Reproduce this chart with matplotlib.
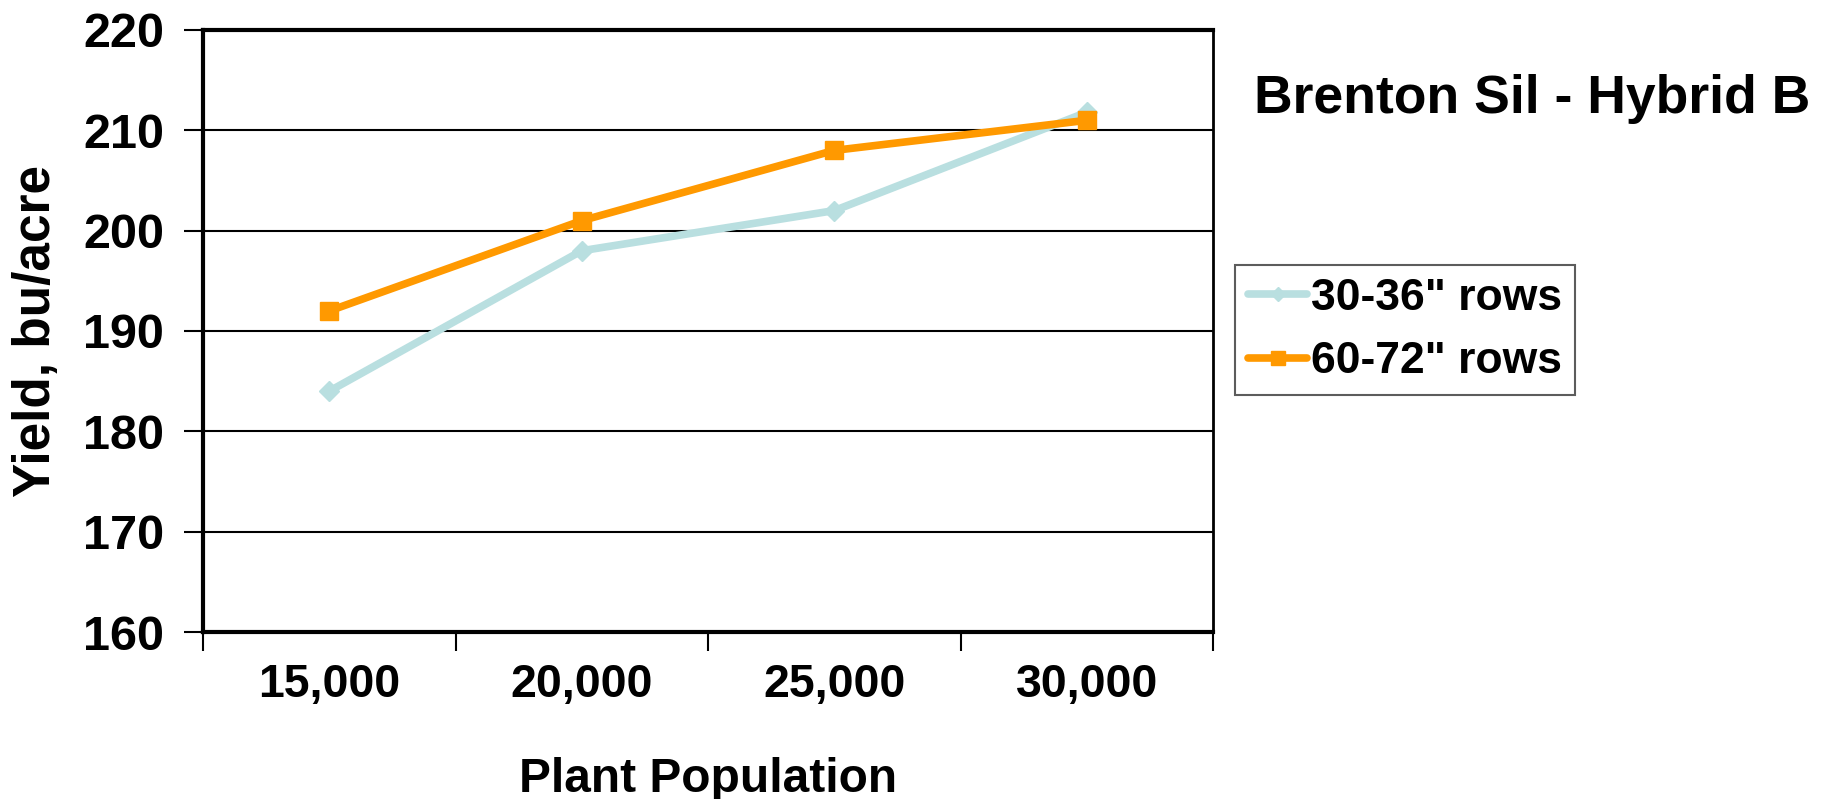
import matplotlib.pyplot as plt
import numpy as np

plt.rcParams['font.family'] = ['Liberation Sans', 'DejaVu Sans']
plt.rcParams['font.weight'] = 'bold'

populations = ['15,000', '20,000', '25,000', '30,000']
rows_30_36 = [184, 198, 202, 211.8]
rows_60_72 = [192, 201, 208, 211]
yticks = [160, 170, 180, 190, 200, 210, 220]

fig = plt.figure(figsize=(18.34, 7.99), dpi=100)
W, H = 1834, 799
ax = fig.add_axes([203 / W, 1 - 632 / H, (1213 - 203) / W, (632 - 30) / H])

x = np.arange(len(populations))
ax.plot(x, rows_30_36, color='#B9DFE0', lw=5.5, marker='D', ms=10,
        solid_capstyle='round', label='30-36" rows', zorder=3)
ax.plot(x, rows_60_72, color='#FF9900', lw=5.5, marker='s', ms=13,
        solid_capstyle='round', label='60-72" rows', zorder=4)

ax.set_xlim(-0.5, len(populations) - 0.5)
ax.set_ylim(160, 220)
ax.set_yticks(yticks)
ax.set_yticklabels([str(v) for v in yticks], fontsize=35, fontweight='bold')
ax.yaxis.grid(True, color='black', lw=1.5)
ax.set_axisbelow(True)

# category labels centred, tick marks on the category boundaries
ax.set_xticks(np.arange(len(populations) + 1) - 0.5)
ax.set_xticklabels([])
ax.set_xticks(x, minor=True)
ax.set_xticklabels(populations, minor=True, fontsize=33.5, fontweight='bold')
ax.tick_params(axis='x', which='minor', length=0, pad=22)
ax.tick_params(axis='x', which='major', length=14, width=1.5, direction='out')
ax.tick_params(axis='y', length=14, width=1.5, direction='out', pad=14)

for side in ['left', 'bottom', 'top']:
    ax.spines[side].set_linewidth(3)
ax.spines['right'].set_linewidth(2)

ax.set_xlabel('Plant Population', fontsize=34.5, fontweight='bold', labelpad=36)
ax.set_ylabel('Yield, bu/acre', fontsize=37, fontweight='bold', labelpad=16)

fig.text(1532 / W, 1 - 99 / H, 'Brenton Sil - Hybrid B', fontsize=38.5,
         fontweight='bold', ha='center', va='center')

leg = fig.legend(loc='center', bbox_to_anchor=(1405 / W, 1 - 330 / H),
                 fontsize=32, frameon=True, fancybox=False, handlelength=1.33,
                 handletextpad=0.07, borderpad=0.3, labelspacing=0.5,
                 markerscale=0.75, borderaxespad=0)
leg.get_frame().set_edgecolor('#333333')
leg.get_frame().set_linewidth(1.5)
for t in leg.get_texts():
    t.set_fontweight('bold')

fig.savefig('out.png', dpi=100)
